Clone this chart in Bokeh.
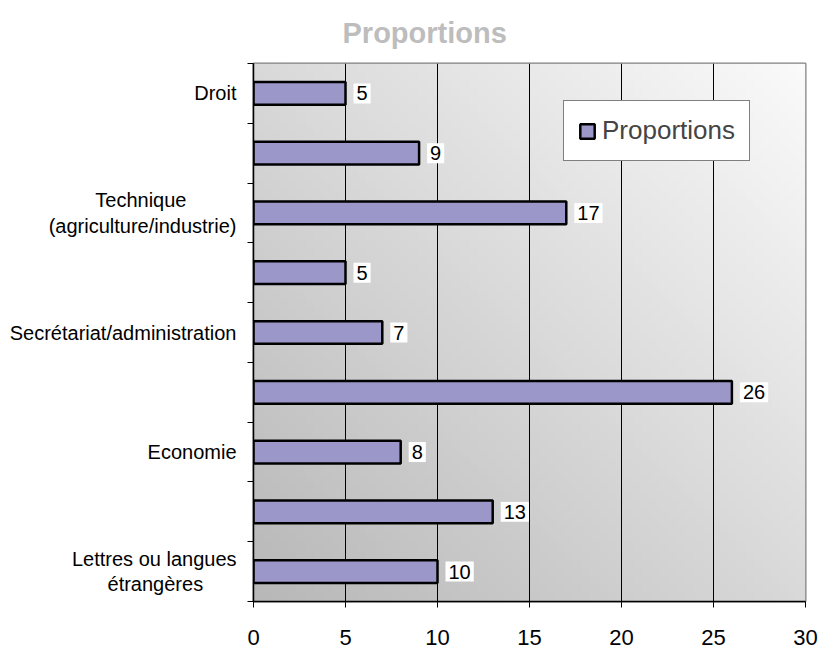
import numpy as np
from bokeh.plotting import figure
from bokeh.models import Range1d, FixedTicker, Legend, LegendItem
from bokeh.core.properties import value
from bokeh.embed import file_html
from bokeh.resources import INLINE

# Fields of study, listed bottom to top; empty strings are rows whose label is not shown
categories = [
    "Lettres ou langues\nétrangères",
    "",
    "Economie",
    "",
    "Secrétariat/administration",
    "",
    "Technique\n(agriculture/industrie)",
    "",
    "Droit",
]
proportions = [10, 13, 8, 26, 7, 5, 17, 9, 5]
x_ticks = [0, 5, 10, 15, 20, 25, 30]

FONT = "Liberation Sans"
NBSP = "\u00a0"
n = len(categories)
pos = [i + 0.5 for i in range(n)]

# Axis labels are right-aligned line by line; pad the short line of a wrapped
# label with non-breaking spaces so that it sits centred under the long one.
short_line_pad = {"Technique": 9, "étrangères": 6}


def tick_label(text):
    lines = text.split("\n")
    return "\n".join(line + NBSP * short_line_pad.get(line, 0) for line in lines)


p = figure(
    width=819, height=651,
    x_range=Range1d(0, 30), y_range=Range1d(0, n),
    output_backend="svg", toolbar_location=None,
    min_border_left=253, min_border_right=14,
    min_border_top=62, min_border_bottom=50,
)
p.background_fill_color = "white"
p.border_fill_color = "white"
p.outline_line_color = "#808080"
p.outline_line_width = 2

# Title
p.title.text = "Proportions"
p.title.text_font = FONT
p.title.text_font_size = "29px"
p.title.text_font_style = "bold"
p.title.text_color = "#bdbdbd"
p.title.align = "left"
p.title.offset = 89
p.title.standoff = 29

# Diagonal grey gradient behind the plot area
gh, gw = 64, 64
u = np.linspace(0, 1, gw)[None, :]
v = np.linspace(0, 1, gh)[:, None]
t = (u + v) / 2.0
shade = (184 + (250 - 184) * t).astype(np.uint8)
rgba = np.empty((gh, gw, 4), dtype=np.uint8)
rgba[..., 0] = shade
rgba[..., 1] = shade
rgba[..., 2] = shade
rgba[..., 3] = 255
img = rgba.view(dtype=np.uint32).reshape((gh, gw))
bg = p.image_rgba(image=[img], x=0, y=0, dw=30, dh=n)
bg.level = "image"

# Bars
bars = p.hbar(y=pos, right=proportions, left=0, height=0.38,
              fill_color="#9b97c9", line_color="black", line_width=2.5)

# Value labels with white boxes
p.text(x=proportions, y=pos, text=[str(v_) for v_ in proportions],
       x_offset=8, text_baseline="middle", text_align="left",
       text_font=value(FONT), text_font_size="20px", text_color="black",
       background_fill_color="white", padding=3)

# Grid
p.ygrid.visible = False
p.xgrid.ticker = FixedTicker(ticks=x_ticks)
p.xgrid.grid_line_color = "black"
p.xgrid.grid_line_width = 1

# X axis
xa = p.xaxis[0]
xa.ticker = FixedTicker(ticks=x_ticks)
xa.axis_line_color = "black"
xa.axis_line_width = 1.5
xa.major_tick_out = 6
xa.major_tick_in = 0
xa.major_tick_line_color = "black"
xa.minor_tick_line_color = None
xa.major_label_text_font = FONT
xa.major_label_text_font_size = "22px"
xa.major_label_text_color = "black"
xa.major_label_standoff = 22

# Y axis: ticks at row boundaries, labels at row centres
ya = p.yaxis[0]
labelled = [i for i in range(n) if categories[i]]
ya.ticker = FixedTicker(ticks=[pos[i] for i in labelled], minor_ticks=list(range(n + 1)))
ya.major_label_overrides = {pos[i]: tick_label(categories[i]) for i in labelled}
ya.major_tick_out = 0
ya.major_tick_in = 0
ya.minor_tick_out = 6
ya.minor_tick_in = 0
ya.minor_tick_line_color = "black"
ya.axis_line_color = "black"
ya.axis_line_width = 1.5
ya.major_label_text_font = FONT
ya.major_label_text_font_size = "20px"
ya.major_label_text_color = "black"
ya.major_label_standoff = 11
ya.major_label_text_line_height = 1.15

# Legend
legend = Legend(items=[LegendItem(label="Proportions", renderers=[bars])],
                location=(310, 440))
legend.margin = 0
legend.padding = 14
legend.glyph_width = 18
legend.glyph_height = 18
legend.label_standoff = 6
legend.label_text_font = FONT
legend.label_text_font_size = "26px"
legend.border_line_color = "black"
legend.border_line_width = 1
legend.background_fill_color = "white"
legend.background_fill_alpha = 1
p.add_layout(legend)

open("out.html", "w").write(file_html(p, INLINE))
